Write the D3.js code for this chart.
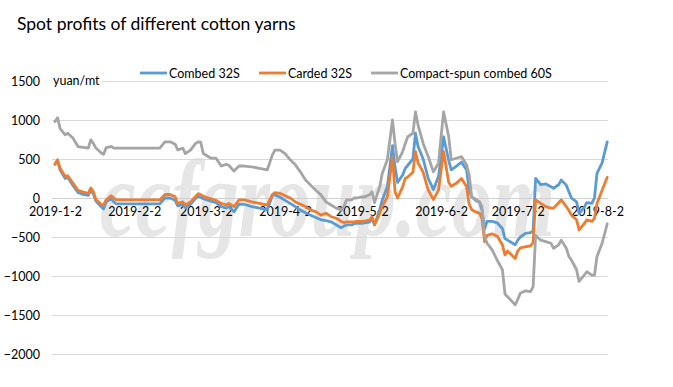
<!DOCTYPE html>
<html>
<head>
<meta charset="utf-8">
<script src="https://cdn.jsdelivr.net/npm/d3@7/dist/d3.min.js"></script>
<style>
  html, body { margin: 0; padding: 0; background: #ffffff; }
  svg { display: block; }
</style>
</head>
<body>
<svg id="chart" width="673" height="387"></svg>
<script>
// ---- data ----
const dates = ["2019-01-02","2019-01-03","2019-01-04","2019-01-06","2019-01-07","2019-01-09","2019-01-11","2019-01-13","2019-01-15","2019-01-16","2019-01-17","2019-01-18","2019-01-20","2019-01-21","2019-01-22","2019-01-24","2019-01-25","2019-01-26","2019-02-12","2019-02-14","2019-02-16","2019-02-18","2019-02-19","2019-02-21","2019-02-22","2019-02-24","2019-02-26","2019-02-27","2019-02-28","2019-03-01","2019-03-04","2019-03-06","2019-03-08","2019-03-10","2019-03-11","2019-03-13","2019-03-15","2019-03-17","2019-03-20","2019-03-23","2019-03-26","2019-03-28","2019-03-29","2019-03-31","2019-04-02","2019-04-04","2019-04-06","2019-04-08","2019-04-10","2019-04-12","2019-04-14","2019-04-16","2019-04-18","2019-04-20","2019-04-22","2019-04-24","2019-04-25","2019-04-26","2019-04-28","2019-04-29","2019-04-30","2019-05-02","2019-05-03","2019-05-05","2019-05-06","2019-05-07","2019-05-09","2019-05-10","2019-05-12","2019-05-14","2019-05-15","2019-05-16","2019-05-18","2019-05-19","2019-05-20","2019-05-22","2019-05-23","2019-05-24","2019-05-26","2019-05-28","2019-05-30","2019-06-01","2019-06-02","2019-06-03","2019-06-05","2019-06-06","2019-06-08","2019-06-10","2019-06-12","2019-06-13","2019-06-14","2019-06-16","2019-06-17","2019-06-18","2019-06-19","2019-06-20","2019-06-22","2019-06-24","2019-06-26","2019-06-27","2019-06-28","2019-07-01","2019-07-02","2019-07-03","2019-07-05","2019-07-07","2019-07-08","2019-07-09","2019-07-11","2019-07-13","2019-07-15","2019-07-16","2019-07-18","2019-07-19","2019-07-21","2019-07-22","2019-07-23","2019-07-25","2019-07-26","2019-07-28","2019-07-29","2019-07-31","2019-08-01","2019-08-02","2019-08-04","2019-08-06"];

const combed32 = [440,480,360,250,265,160,70,45,35,100,50,-40,-110,-140,-50,-10,-50,-75,-75,0,0,-30,-100,-80,-120,-80,-5,20,10,-10,-40,-60,-110,-130,-110,-175,-80,-80,-110,-130,-155,30,40,10,-30,-70,-110,-155,-190,-220,-250,-280,-290,-305,-345,-380,-360,-345,-345,-330,-325,-325,-320,-310,-260,-345,-150,-25,145,670,400,200,295,380,420,500,830,660,500,250,110,275,510,785,480,360,410,460,360,100,15,-40,-50,-150,-400,-300,-300,-320,-390,-520,-540,-600,-540,-500,-455,-445,-420,250,170,180,145,125,170,230,165,80,0,-50,-200,-120,-60,-70,0,315,450,720];

const carded32 = [430,490,380,275,285,190,100,75,60,130,80,-20,-80,-90,-25,30,0,-25,-25,45,45,15,-70,-50,-90,-50,20,55,45,20,-10,-30,-70,-90,-70,-110,-25,-25,-50,-70,-90,45,70,60,30,0,-50,-80,-110,-155,-175,-220,-195,-240,-260,-300,-315,-305,-305,-305,-300,-300,-295,-285,-240,-345,-200,-110,15,530,80,0,145,250,270,330,595,450,330,100,-20,100,350,595,200,150,190,250,145,-80,-150,-185,-195,-260,-560,-480,-460,-490,-600,-730,-680,-775,-680,-640,-625,-615,-570,-25,-70,-110,-130,-130,-60,-25,-110,-160,-220,-280,-410,-330,-280,-300,-260,-70,100,265];

const compact60 = [980,1030,890,810,830,770,660,650,640,745,700,640,580,560,645,660,640,640,640,720,720,690,615,640,570,615,700,720,715,570,510,510,410,430,420,345,410,410,400,380,360,550,615,615,570,490,425,335,230,165,100,40,-50,-90,-130,-155,-110,-25,-25,0,0,15,15,40,80,-60,145,315,490,1000,700,465,595,700,785,830,1105,935,700,530,335,445,785,1105,785,490,510,530,425,295,15,-25,-50,-110,-495,-580,-665,-800,-920,-1230,-1265,-1370,-1300,-1220,-1190,-1200,-1140,-480,-540,-560,-580,-645,-600,-540,-645,-750,-795,-920,-1070,-990,-945,-990,-990,-750,-580,-330];

const seriesNames = ["Combed 32S", "Carded 32S", "Compact-spun combed 60S"];
const seriesColors = ["#5B9BD5", "#ED7D31", "#A5A5A5"];
const yTicks = [1500, 1000, 500, 0, -500, -1000, -1500, -2000];
const xTickDates = ["2019-01-02","2019-02-02","2019-03-02","2019-04-02","2019-05-02","2019-06-02","2019-07-02","2019-08-02"];
const titleText = "Spot profits of different cotton yarns";
const unitText = "yuan/mt";
const watermarkText = "ccfgroup.com";

// ---- drawing ----
const parse = d3.timeParse("%Y-%m-%d");
const svg = d3.select("#chart");
const FONT = "Lato, 'Open Sans', sans-serif";

svg.append("rect").attr("width", 673).attr("height", 387).attr("fill", "#ffffff");

const plotLeft = 52, plotRight = 608;
const x = d3.scaleTime()
  .domain([parse("2019-01-02"), parse("2019-08-02")])
  .range([55, 597]);
const y = d3.scaleLinear().domain([-2000, 1500]).range([354, 81]);

// watermark
svg.append("text")
  .attr("x", 100).attr("y", 236)
  .attr("font-family", "'Liberation Serif', 'DejaVu Serif', serif")
  .attr("font-style", "italic")
  .attr("font-weight", "bold")
  .attr("font-size", 110)
  .attr("fill", "#e6e6e6")
  .attr("textLength", 455)
  .attr("lengthAdjust", "spacingAndGlyphs")
  .text(watermarkText);

// gridlines
svg.append("g").selectAll("line")
  .data(yTicks.filter(d => d !== 0))
  .join("line")
  .attr("x1", plotLeft).attr("x2", plotRight)
  .attr("y1", d => y(d)).attr("y2", d => y(d))
  .attr("stroke", "#d9d9d9").attr("stroke-width", 1)
  .attr("shape-rendering", "crispEdges");

// y axis labels
const yAxis = d3.axisLeft(y).tickValues(yTicks).tickSize(0).tickPadding(0).tickFormat(d3.format("d"));
const gy = svg.append("g").attr("transform", "translate(40,0)").call(yAxis);
gy.select(".domain").remove();
gy.selectAll("text").attr("font-family", FONT).attr("font-size", 12.5).attr("fill", "#000");

// x axis at zero
const fmt = d => `${d.getFullYear()}-${d.getMonth() + 1}-${d.getDate()}`;
const xAxis = d3.axisBottom(x).tickValues(xTickDates.map(parse)).tickSize(0).tickPadding(9).tickFormat(fmt);
const gx = svg.append("g").attr("transform", `translate(0,${y(0)})`).call(xAxis);
gx.select(".domain").remove();
gx.selectAll("text").attr("font-family", FONT).attr("font-size", 12.5).attr("fill", "#000");
svg.append("line")
  .attr("x1", plotLeft).attr("x2", plotRight)
  .attr("y1", y(0)).attr("y2", y(0))
  .attr("stroke", "#d0d0d0").attr("stroke-width", 1)
  .attr("shape-rendering", "crispEdges");

// unit label with white background
svg.append("rect").attr("x", 50).attr("y", 73).attr("width", 52).attr("height", 15).attr("fill", "#fff");
svg.append("text").attr("x", 53).attr("y", 84.5)
  .attr("font-family", FONT).attr("font-size", 12.5).attr("fill", "#000")
  .text(unitText);

// lines
const allSeries = [combed32, carded32, compact60];
const line = d3.line().x(d => x(d.date)).y(d => y(d.v));
allSeries.forEach((vals, i) => {
  const pts = dates.map((d, j) => ({ date: parse(d), v: vals[j] }));
  svg.append("path")
    .datum(pts)
    .attr("fill", "none")
    .attr("stroke", seriesColors[i])
    .attr("stroke-width", 2.8)
    .attr("stroke-linejoin", "round")
    .attr("stroke-linecap", "round")
    .attr("d", line);
});

// legend
const legendX = [140, 259, 371];
const lg = svg.append("g");
seriesNames.forEach((n, i) => {
  lg.append("line")
    .attr("x1", legendX[i]).attr("x2", legendX[i] + 27)
    .attr("y1", 73).attr("y2", 73)
    .attr("stroke", seriesColors[i]).attr("stroke-width", 2.8);
  lg.append("text")
    .attr("x", legendX[i] + 29).attr("y", 77.5)
    .attr("font-family", FONT).attr("font-size", 12.5).attr("fill", "#000")
    .text(n);
});

// title
svg.append("text").attr("x", 17).attr("y", 30)
  .attr("font-family", FONT).attr("font-size", 17.5).attr("fill", "#000")
  .text(titleText);
</script>
</body>
</html>
